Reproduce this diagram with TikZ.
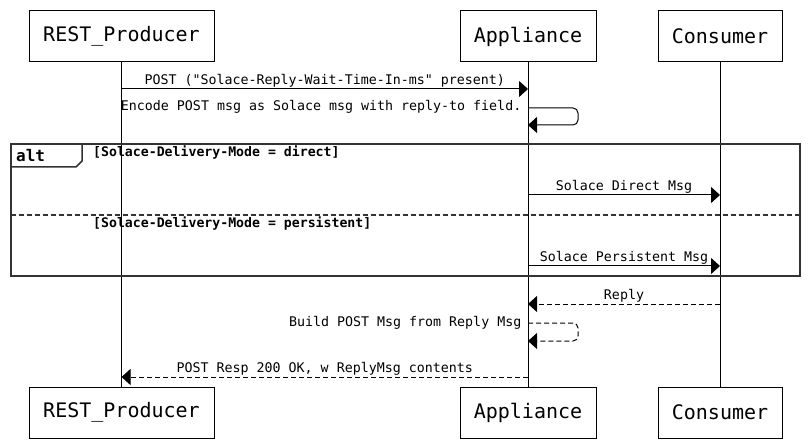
\documentclass[tikz,border=0pt]{standalone}
\usepackage{fontspec}
\setmonofont{DejaVu Sans Mono}
\usetikzlibrary{arrows.meta,positioning}

\begin{document}
\begin{tikzpicture}[x=1pt,y=-1pt,
  part/.style={draw,line width=1pt,inner sep=0pt,minimum height=51pt,font=\ttfamily\fontsize{20}{20}\selectfont},
  life/.style={line width=1pt},
  msg/.style={line width=1pt,-{Triangle[length=9pt,width=16pt]}},
  reply/.style={msg,dash pattern=on 5pt off 3pt},
  lbl/.style={font=\ttfamily\fontsize{13.3}{14}\selectfont,inner sep=1.5pt},
  guard/.style={font=\ttfamily\bfseries\fontsize{13.2}{14}\selectfont,inner sep=0pt,anchor=west},
  frm/.style={line width=1.5pt,draw=black!80}]
\useasboundingbox (0,0) rectangle (808,446);

% participants, top and bottom
\node[part,minimum width=185pt] (prodtop) at (121.5,36.5) {REST\_Producer};
\node[part,minimum width=136pt] (apptop) at (528,36.5) {Appliance};
\node[part,minimum width=124pt] (constop) at (720,36.5) {Consumer};
\node[part,minimum width=185pt] (prodbot) at (121.5,412.5) {REST\_Producer};
\node[part,minimum width=136pt] (appbot) at (528,412.5) {Appliance};
\node[part,minimum width=124pt] (consbot) at (720,412.5) {Consumer};

\draw[life] (prodtop) -- (prodbot);
\draw[life] (apptop) -- (appbot);
\draw[life] (constop) -- (consbot);

% alt frame
\draw[frm] (11,144) rectangle (800,276);
\draw[frm] (11,167) -- (76,167) -- (82,161) -- (82,144);
\node[font=\ttfamily\bfseries\fontsize{16}{16}\selectfont,anchor=west,inner sep=0pt] (alt) at (16,156) {alt};
\node[guard] (g1) at (93,153) {[Solace-Delivery-Mode = direct]};
\draw[frm,dash pattern=on 5pt off 3pt] (11,215) -- (800,215);
\node[guard] (g2) at (93,224) {[Solace-Delivery-Mode = persistent]};

% messages
\draw[msg] (prodtop |- 0,89) -- node[lbl,above] (m1) {POST ("Solace-Reply-Wait-Time-In-ms" present)} (apptop |- 0,89);

\node[lbl,anchor=east] (m2) at ([xshift=-5pt]apptop |- 0,107) {Encode POST msg as Solace msg with reply-to field.};
\draw[msg,rounded corners=5pt] (apptop |- 0,108) -- ++(50,0) -- ++(0,17) -- (apptop |- 0,125);

\draw[msg] (apptop |- 0,195) -- node[lbl,above] (m3) {Solace Direct Msg} (constop |- 0,195);
\draw[msg] (apptop |- 0,266) -- node[lbl,above] (m4) {Solace Persistent Msg} (constop |- 0,266);

\draw[reply] (constop |- 0,304) -- node[lbl,above] (m5) {Reply} (apptop |- 0,304);

\node[lbl,anchor=east] (m6) at ([xshift=-5pt]apptop |- 0,323) {Build POST Msg from Reply Msg};
\draw[reply,rounded corners=5pt] (apptop |- 0,323) -- ++(50,0) -- ++(0,18) -- (apptop |- 0,341);

\draw[reply] (apptop |- 0,377) -- node[lbl,above] (m7) {POST Resp 200 OK, w ReplyMsg contents} (prodtop |- 0,377);
\end{tikzpicture}
\end{document}
